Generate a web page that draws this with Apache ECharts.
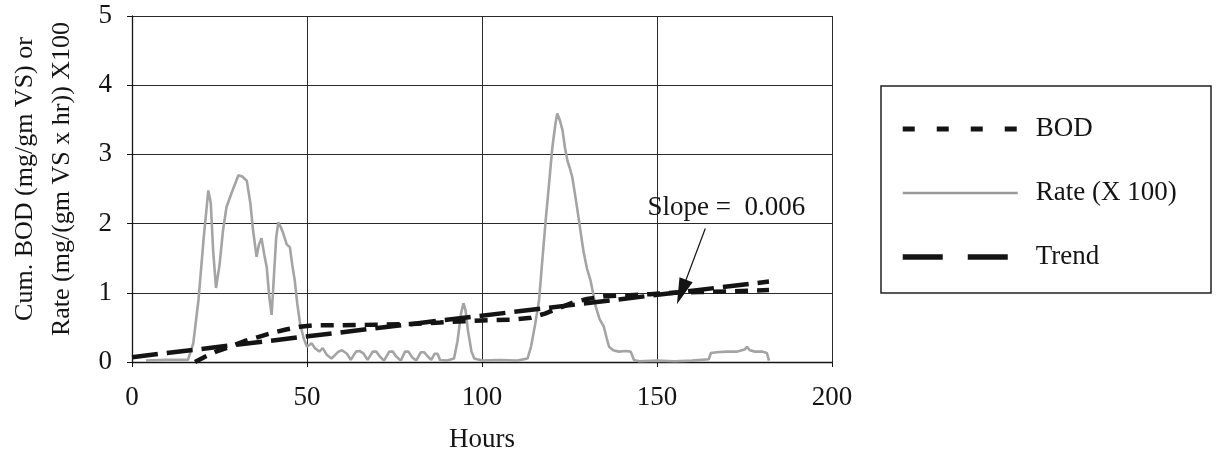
<!DOCTYPE html>
<html>
<head>
<meta charset="utf-8">
<script src="https://cdn.jsdelivr.net/npm/echarts@6/dist/echarts.min.js"></script>
<style>
  html, body { margin: 0; padding: 0; background: #fff; }
  #chart { width: 1216px; height: 460px; }
</style>
</head>
<body>
<div id="chart"></div>
<script>
// Cumulative BOD (mg/gm VS) against hours
const bodHours = [18, 21, 24, 28, 32, 36, 40, 44, 48, 52, 60, 70, 80, 88, 95, 100, 108, 114, 118, 122, 126, 130, 135, 140, 148, 155, 162, 170, 177, 182];
const bodValues = [0, 0.08, 0.15, 0.22, 0.3, 0.36, 0.42, 0.47, 0.51, 0.53, 0.53, 0.54, 0.55, 0.57, 0.59, 0.6, 0.61, 0.64, 0.7, 0.78, 0.86, 0.91, 0.95, 0.96, 0.98, 1.0, 1.01, 1.02, 1.03, 1.04];

// Rate (X 100) against hours
const rateHours = [4, 10, 16, 17.5, 19, 20.5, 21.8, 22.5, 23.2, 24, 25, 26, 27, 28.5, 30.4, 31.5, 32.8, 33.8, 34.6, 35.6, 36.3, 37, 37.8, 38.5, 39.2, 39.9, 40.5, 41.2, 41.8, 42.5, 43.2, 44.2, 45.1, 45.8, 46.5, 47.2, 48, 49, 50, 51.3, 52.3, 53.5, 54.5, 55.7, 57, 59, 60, 61.4, 62.5, 64, 65, 66.2, 67.3, 68.8, 69.8, 70.8, 72, 73.5, 74.5, 75.5, 76.8, 78, 79, 80, 81.2, 82.5, 83.5, 84.5, 85.5, 86.5, 87.3, 88, 90, 92, 93, 94, 94.7, 95.3, 96, 97, 97.8, 100, 105, 110, 113, 114, 115.2, 116.3, 117.2, 118.2, 119.2, 120.1, 121, 121.5, 122.2, 123, 123.7, 124.4, 125.1, 125.8, 126.8, 127.7, 128.4, 129.1, 130, 131, 131.8, 132.5, 133.6, 134.8, 135.6, 136.3, 137.5, 139.1, 141, 142.5, 143.4, 145, 150, 155, 160, 164.8, 165.4, 167, 170, 173, 175, 175.7, 176.5, 178, 180, 181.4, 182];
const rateValues = [0.02, 0.03, 0.03, 0.27, 0.9, 1.8, 2.48, 2.3, 1.6, 1.07, 1.4, 1.9, 2.24, 2.45, 2.7, 2.68, 2.62, 2.3, 1.9, 1.52, 1.7, 1.79, 1.55, 1.37, 0.95, 0.68, 1.2, 1.8, 2.02, 1.95, 1.86, 1.7, 1.66, 1.4, 1.18, 0.85, 0.56, 0.35, 0.22, 0.27, 0.2, 0.15, 0.2, 0.1, 0.05, 0.15, 0.17, 0.12, 0.03, 0.15, 0.16, 0.12, 0.03, 0.15, 0.15, 0.08, 0.02, 0.15, 0.15, 0.08, 0.02, 0.15, 0.15, 0.07, 0.02, 0.14, 0.14, 0.08, 0.03, 0.12, 0.12, 0.03, 0.02, 0.05, 0.3, 0.7, 0.85, 0.75, 0.45, 0.15, 0.05, 0.02, 0.03, 0.02, 0.05, 0.22, 0.55, 0.89, 1.45, 2.05, 2.6, 3.1, 3.45, 3.59, 3.5, 3.35, 3.1, 2.91, 2.8, 2.67, 2.35, 2.05, 1.8, 1.57, 1.35, 1.18, 0.98, 0.8, 0.62, 0.51, 0.35, 0.22, 0.17, 0.15, 0.16, 0.15, 0.03, 0.01, 0.02, 0.01, 0.02, 0.04, 0.13, 0.14, 0.15, 0.15, 0.18, 0.22, 0.17, 0.15, 0.15, 0.13, 0.02];

// Linear trend of cumulative BOD
const trendSlope = 0.006;
const trendIntercept = 0.07;
const trendHours = [0, 182];

// Slope callout: label centre, arrow start, arrow tip hour
const slopeLabel = 'Slope =  0.006';
const slopeLabelAt = [169.8, 2.22];
const arrowFrom = [163.8, 1.93];
const arrowTipHour = 157;

// Axis ticks
const xTicks = [0, 50, 100, 150, 200];
const yTicks = [0, 1, 2, 3, 4, 5];

const legendNames = ['BOD', 'Rate (X 100)', 'Trend'];

const serif = 'Liberation Serif, Times New Roman, serif';
const ink = '#141414';
const rateGrey = '#a4a4a4';

const trendAt = h => trendIntercept + trendSlope * h;
const zip = (xs, ys) => xs.map((x, i) => [x, ys[i]]);

// legend keys show only the line sample, no marker
const hiddenMarker = { color: 'rgba(0,0,0,0)', borderWidth: 0, opacity: 0 };

const chart = echarts.init(document.getElementById('chart'), null, { renderer: 'canvas' });

chart.setOption({
  animation: false,
  backgroundColor: '#ffffff',
  grid: { left: 132, right: 384, top: 16, bottom: 98, containLabel: false },
  xAxis: {
    type: 'value',
    min: xTicks[0],
    max: xTicks[xTicks.length - 1],
    interval: xTicks[1] - xTicks[0],
    name: 'Hours',
    nameLocation: 'middle',
    nameGap: 64,
    nameTextStyle: { fontFamily: serif, fontSize: 27, color: ink },
    axisLine: { show: true, lineStyle: { color: ink, width: 1.3 } },
    axisTick: { show: true, inside: false, length: 5, lineStyle: { color: ink } },
    axisLabel: { fontFamily: serif, fontSize: 27, color: ink, margin: 22 },
    splitLine: { show: true, lineStyle: { color: '#2a2a2a', width: 1 } }
  },
  yAxis: {
    type: 'value',
    min: yTicks[0],
    max: yTicks[yTicks.length - 1],
    interval: yTicks[1] - yTicks[0],
    axisLine: { show: true, lineStyle: { color: ink, width: 1.3 } },
    axisTick: { show: true, inside: false, length: 5, lineStyle: { color: ink } },
    axisLabel: { fontFamily: serif, fontSize: 27, color: ink, margin: 20 },
    splitLine: { show: true, lineStyle: { color: '#2a2a2a', width: 1 } }
  },
  legend: {
    orient: 'vertical',
    left: 895,
    top: 109,
    itemWidth: 115,
    itemHeight: 12,
    itemGap: 34,
    itemTextGap: 18,
    selectedMode: false,
    textStyle: { fontFamily: serif, fontSize: 27, color: ink, lineHeight: 30, padding: [0, 0, 0, 13] },
    data: [
      { name: legendNames[0], itemStyle: hiddenMarker, lineStyle: { type: [12, 22], width: 5, color: ink } },
      { name: legendNames[1], itemStyle: hiddenMarker, lineStyle: { width: 2.5, color: '#9a9a9a' } },
      { name: legendNames[2], itemStyle: hiddenMarker, lineStyle: { type: [40, 25], width: 5.5, color: ink } }
    ]
  },
  graphic: [
    {
      type: 'rect',
      shape: { x: 881, y: 86, width: 330, height: 207 },
      style: { fill: 'none', stroke: '#222', lineWidth: 1.5 },
      silent: true
    },
    {
      type: 'text',
      x: 44,
      y: 179,
      rotation: Math.PI / 2,
      style: {
        text: 'Cum. BOD (mg/gm VS) or\nRate (mg/(gm VS x hr)) X100',
        font: '26px ' + serif,
        fill: ink,
        align: 'center',
        verticalAlign: 'middle',
        lineHeight: 37
      },
      silent: true
    }
  ],
  series: [
    {
      name: legendNames[1],
      type: 'line',
      data: zip(rateHours, rateValues),
      symbol: 'none',
      z: 2,
      lineStyle: { color: rateGrey, width: 2.6 },
      itemStyle: { color: rateGrey }
    },
    {
      name: legendNames[0],
      type: 'line',
      data: zip(bodHours, bodValues),
      symbol: 'none',
      z: 3,
      lineStyle: { color: ink, width: 4.5, type: [13, 9] },
      itemStyle: { color: ink }
    },
    {
      name: legendNames[2],
      type: 'line',
      data: trendHours.map(h => [h, trendAt(h)]),
      symbol: 'none',
      z: 4,
      lineStyle: { color: ink, width: 4.5, type: [26, 9] },
      itemStyle: { color: ink },
      markLine: {
        silent: true,
        symbol: ['none', 'triangle'],
        symbolSize: [14, 26],
        lineStyle: { color: ink, width: 1.2, type: 'solid' },
        label: { show: false },
        data: [[
          { coord: arrowFrom },
          { coord: [arrowTipHour, trendAt(arrowTipHour)] }
        ]]
      },
      markPoint: {
        silent: true,
        symbol: 'circle',
        symbolSize: 0,
        label: {
          show: true,
          position: 'inside',
          formatter: slopeLabel,
          fontFamily: serif,
          fontSize: 27,
          color: ink
        },
        data: [{ coord: slopeLabelAt }]
      }
    }
  ]
});
</script>
</body>
</html>
